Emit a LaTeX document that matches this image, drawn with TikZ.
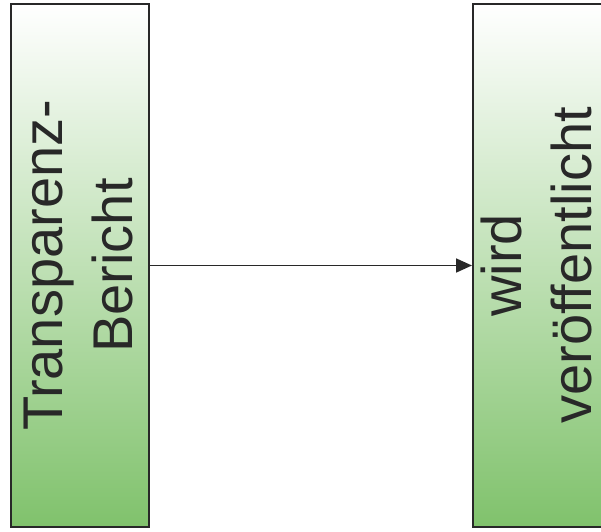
\documentclass[tikz,border=0pt]{standalone}
\usepackage{fontspec}
\setmainfont{Liberation Sans}
\usetikzlibrary{arrows.meta,positioning}
\definecolor{boxgreen}{RGB}{128,194,108}
\definecolor{boxmint}{RGB}{218,240,232}
\definecolor{inkgray}{RGB}{40,40,40}
\tikzset{
  stage/.style={draw=inkgray, line width=2pt, minimum width=138pt, minimum height=522pt,
    top color=white, middle color=boxmint, bottom color=boxgreen, inner sep=0pt},
  stagetext/.style={rotate=90, align=center, text=inkgray, inner sep=0pt,
    font=\fontsize{56}{70}\selectfont},
  flow/.style={-{Triangle[length=16pt,width=14pt]}, line width=1.8pt, draw=inkgray}
}

\begin{document}
\begin{tikzpicture}[x=1pt,y=1pt]
\useasboundingbox (0,0) rectangle (601,531);
% two stages
\node[stage] (bericht) at (80,265.5) {};
\node[stage, right=322pt of bericht] (veroeff) {};
\node[stagetext] (berichttext) at ([xshift=-1pt]bericht.center) {Transparenz-\\Bericht};
\node[stagetext] (vertext) at ([xshift=-6pt]veroeff.center) {wird\\veröffentlicht};
% flow
\draw[flow] (bericht) -- (veroeff);
\end{tikzpicture}
\end{document}
